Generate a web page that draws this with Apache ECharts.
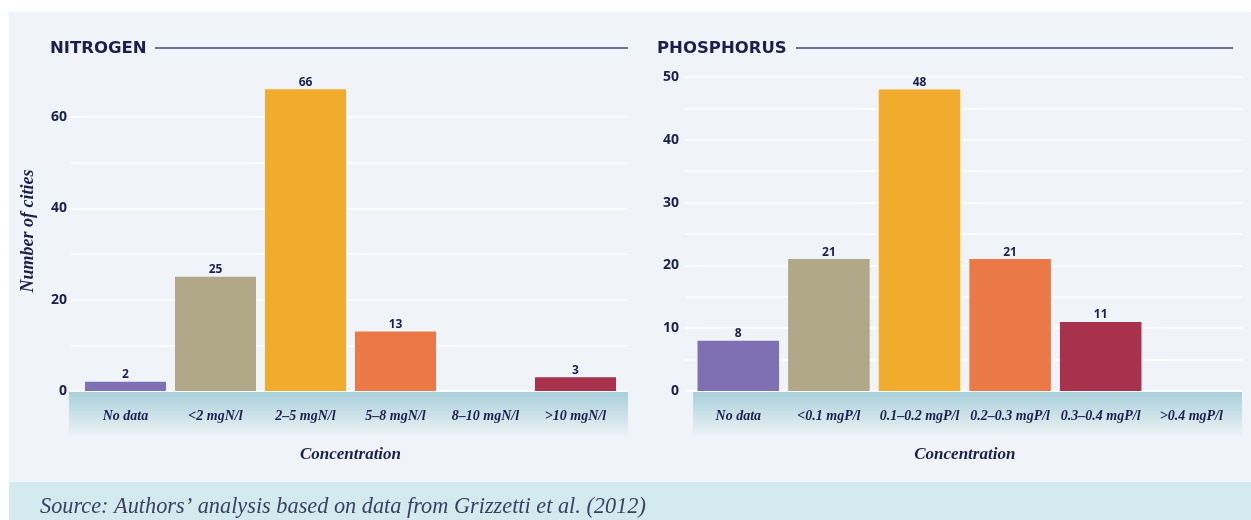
<!DOCTYPE html>
<html>
<head>
<meta charset="utf-8">
<script src="https://cdn.jsdelivr.net/npm/echarts@6/dist/echarts.min.js"></script>
<style>
html,body{margin:0;padding:0;background:#ffffff;}
#c{width:1251px;height:520px;}
</style>
</head>
<body>
<div id="c"></div>
<script>
// ---- data ----
const nitrogenCategories = ['No data', '<2 mgN/l', '2–5 mgN/l', '5–8 mgN/l', '8–10 mgN/l', '>10 mgN/l'];
const nitrogenValues = [2, 25, 66, 13, 0, 3];
const phosphorusCategories = ['No data', '<0.1 mgP/l', '0.1–0.2 mgP/l', '0.2–0.3 mgP/l', '0.3–0.4 mgP/l', '>0.4 mgP/l'];
const phosphorusValues = [8, 21, 48, 21, 11, 0];
const barColors = ['#7f6fb3', '#b0a886', '#f1ac2e', '#ea7947', '#a8324c', '#a8324c'];
const nitrogenTicks = [0, 20, 40, 60];
const phosphorusTicks = [0, 10, 20, 30, 40, 50];
const titles = ['NITROGEN', 'PHOSPHORUS'];
const yAxisTitle = 'Number of cities';
const xAxisTitle = 'Concentration';
const sourceText = 'Source: Authors’ analysis based on data from Grizzetti et al. (2012)';

const navy = '#1b1f4e';
const sans = '"Open Sans", Lato, sans-serif';
const titleFont = '"DejaVu Sans", "Open Sans", sans-serif';
const serif = '"Liberation Serif", "DejaVu Serif", serif';

function barData(vals) {
  return vals.map((v, i) => ({ value: v, itemStyle: { color: barColors[i] }, label: { show: v > 0 } }));
}

const chart = echarts.init(document.getElementById('c'), null, { renderer: 'canvas' });

const bandGrad = new echarts.graphic.LinearGradient(0, 0, 0, 1, [
  { offset: 0, color: '#a9cfd9' },
  { offset: 1, color: '#f0f4f8' }
]);

const option = {
  animation: false,
  backgroundColor: '#ffffff',
  graphic: [
    { type: 'rect', z: -10, shape: { x: 9, y: 12, width: 1242, height: 470 }, style: { fill: '#f0f4f8' } },
    { type: 'rect', z: -10, shape: { x: 9, y: 482, width: 1242, height: 38 }, style: { fill: '#d3eaef' } },
    { type: 'rect', z: -5, shape: { x: 69, y: 392, width: 559, height: 46 }, style: { fill: bandGrad } },
    { type: 'rect', z: -5, shape: { x: 693, y: 392, width: 549, height: 46 }, style: { fill: bandGrad } },
    { type: 'line', shape: { x1: 155, y1: 48, x2: 628, y2: 48 }, style: { stroke: '#6e7399', lineWidth: 2 } },
    { type: 'line', shape: { x1: 796, y1: 48, x2: 1233, y2: 48 }, style: { stroke: '#6e7399', lineWidth: 2 } },
    { type: 'text', left: 40, top: 496, style: { text: sourceText, font: 'italic 22.3px ' + serif, fill: '#3b3f63' } }
  ],
  title: [
    { text: titles[0], left: 50, top: 40, padding: 0, textStyle: { fontFamily: titleFont, fontWeight: 'bold', fontSize: 16.5, color: navy } },
    { text: titles[1], left: 657, top: 40, padding: 0, textStyle: { fontFamily: titleFont, fontWeight: 'bold', fontSize: 16.5, color: navy } }
  ],
  grid: [
    // bar grids
    { left: 80.5, width: 540, top: 71, height: 320, containLabel: false },
    { left: 693, width: 543.6, top: 77, height: 314, containLabel: false },
    // gridline grids
    { left: 71, width: 557, top: 117, height: 274, containLabel: false },
    { left: 685, width: 557, top: 77, height: 314, containLabel: false }
  ],
  xAxis: [
    {
      gridIndex: 0, type: 'category', data: nitrogenCategories,
      axisLine: { show: false }, axisTick: { show: false },
      axisLabel: { margin: 18, fontFamily: serif, fontStyle: 'italic', fontWeight: 'bold', fontSize: 14, color: navy, interval: 0 },
      name: xAxisTitle, nameLocation: 'middle', nameGap: 55,
      nameTextStyle: { fontFamily: serif, fontStyle: 'italic', fontWeight: 'bold', fontSize: 17, color: navy }
    },
    {
      gridIndex: 1, type: 'category', data: phosphorusCategories,
      axisLine: { show: false }, axisTick: { show: false },
      axisLabel: { margin: 18, fontFamily: serif, fontStyle: 'italic', fontWeight: 'bold', fontSize: 14, color: navy, interval: 0 },
      name: xAxisTitle, nameLocation: 'middle', nameGap: 55,
      nameTextStyle: { fontFamily: serif, fontStyle: 'italic', fontWeight: 'bold', fontSize: 17, color: navy }
    },
    { gridIndex: 2, type: 'value', min: 0, max: 1, show: false },
    { gridIndex: 3, type: 'value', min: 0, max: 1, show: false }
  ],
  yAxis: [
    {
      gridIndex: 0, type: 'value', min: 0, max: 70,
      axisLine: { show: false }, axisTick: { show: false }, axisLabel: { show: false },
      splitLine: { show: false },
      name: yAxisTitle, nameLocation: 'middle', nameGap: 43,
      nameTextStyle: { fontFamily: serif, fontStyle: 'italic', fontWeight: 'bold', fontSize: 18, color: navy }
    },
    {
      gridIndex: 1, type: 'value', min: 0, max: 50,
      axisLine: { show: false }, axisTick: { show: false }, axisLabel: { show: false },
      splitLine: { show: false }
    },
    {
      gridIndex: 2, type: 'value', min: 0, max: 60, interval: 10,
      axisLine: { show: false }, axisTick: { show: false },
      axisLabel: {
        margin: 4, fontFamily: sans, fontWeight: 'bold', fontSize: 14, color: navy,
        formatter: v => nitrogenTicks.includes(v) ? String(v) : ''
      },
      splitLine: { show: true, lineStyle: { color: '#ffffff', width: 1.5 } }
    },
    {
      gridIndex: 3, type: 'value', min: 0, max: 50, interval: 5,
      axisLine: { show: false }, axisTick: { show: false },
      axisLabel: {
        margin: 6, fontFamily: sans, fontWeight: 'bold', fontSize: 14, color: navy,
        formatter: v => phosphorusTicks.includes(v) ? String(v) : ''
      },
      splitLine: { show: true, lineStyle: { color: '#ffffff', width: 1.5 } }
    }
  ],
  series: [
    {
      type: 'bar', xAxisIndex: 0, yAxisIndex: 0, data: barData(nitrogenValues),
      barCategoryGap: '10%', z: 3,
      label: { position: 'top', distance: 1, fontFamily: sans, fontWeight: 'bold', fontSize: 12, color: navy }
    },
    {
      type: 'bar', xAxisIndex: 1, yAxisIndex: 1, data: barData(phosphorusValues),
      barCategoryGap: '10%', z: 3,
      label: { position: 'top', distance: 1, fontFamily: sans, fontWeight: 'bold', fontSize: 12, color: navy }
    },
    { type: 'scatter', xAxisIndex: 2, yAxisIndex: 2, data: [], silent: true },
    { type: 'scatter', xAxisIndex: 3, yAxisIndex: 3, data: [], silent: true }
  ]
};
chart.setOption(option);
</script>
</body>
</html>
